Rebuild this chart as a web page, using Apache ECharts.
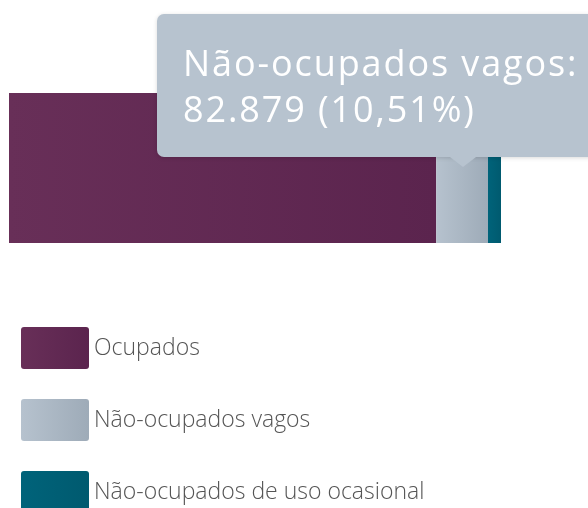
<!DOCTYPE html>
<html>
<head>
<meta charset="utf-8">
<script src="https://cdn.jsdelivr.net/npm/echarts@6/dist/echarts.min.js"></script>
<style>
  html, body { margin: 0; padding: 0; overflow: hidden; background: #fff; }
  #chart { width: 588px; height: 508px; }
</style>
</head>
<body>
<div id="chart"></div>
<script>
// domicílios por situação de ocupação
const categories = ['Domicílios']
const seriesNames = ['Ocupados', 'Não-ocupados vagos', 'Não-ocupados de uso ocasional']
const ocupados = [684800]
const vagos = [82879]
const ocasional = [20900]

const total = ocupados[0] + vagos[0] + ocasional[0]

function grad(c1, c2) {
  return {
    type: 'linear', x: 0, y: 0, x2: 1, y2: 0,
    colorStops: [{ offset: 0, color: c1 }, { offset: 1, color: c2 }]
  }
}

function fmtNum(v) {
  return String(v).replace(/\B(?=(\d{3})+(?!\d))/g, '.')
}

const chart = echarts.init(document.getElementById('chart'))

const mkSeries = (name, data, color) => ({
  name: name,
  type: 'bar',
  stack: 'total',
  data: data,
  barWidth: '100%',
  itemStyle: { color: color },
  emphasis: { disabled: true }
})

chart.setOption({
  animation: false,
  grid: { left: 9, right: 87, top: 93, bottom: 265, containLabel: false },
  xAxis: { type: 'value', min: 0, max: total, show: false },
  yAxis: { type: 'category', data: categories, show: false },
  legend: {
    orient: 'vertical',
    left: 21,
    top: 327,
    height: 300,
    padding: 0,
    itemWidth: 68,
    itemHeight: 42,
    itemGap: 30,
    icon: 'path://M3,0 H65 Q68,0 68,3 V39 Q68,42 65,42 H3 Q0,42 0,39 V3 Q0,0 3,0 Z',
    selectedMode: false,
    textStyle: { fontFamily: 'Open Sans', fontSize: 23, fontWeight: 300, color: '#555', padding: [6, 0, 0, 0] }
  },
  tooltip: {
    trigger: 'item',
    triggerOn: 'none',
    alwaysShowContent: true,
    transitionDuration: 0,
    position: [157, 14],
    backgroundColor: '#b7c3cf',
    borderWidth: 0,
    padding: [26, 40, 25, 26],
    extraCssText: 'border-radius:7px;box-shadow:0 1px 4px rgba(0,0,0,0.15);',
    formatter: function (p) {
      const pct = (p.value / total * 100).toFixed(2).replace('.', ',')
      return '<div style="font-family:\'Open Sans\';font-size:36px;letter-spacing:1.9px;line-height:46px;color:#fff;white-space:nowrap;">' +
        p.seriesName + ':<br/>' + fmtNum(p.value) + ' (' + pct + '%)</div>' +
        '<div style="position:absolute;left:293px;top:100%;width:0;height:0;' +
        'border-left:13px solid transparent;border-right:13px solid transparent;border-top:10px solid #b7c3cf;"></div>'
    }
  },
  series: [
    mkSeries(seriesNames[0], ocupados, grad('#682f58', '#5b244e')),
    mkSeries(seriesNames[1], vagos, grad('#b6c2ce', '#9eabb8')),
    mkSeries(seriesNames[2], ocasional, grad('#00637a', '#005a6f'))
  ]
})

chart.dispatchAction({ type: 'showTip', seriesIndex: 1, dataIndex: 0 })

window.addEventListener('resize', function () {
  chart.resize()
})
</script>
</body>
</html>
